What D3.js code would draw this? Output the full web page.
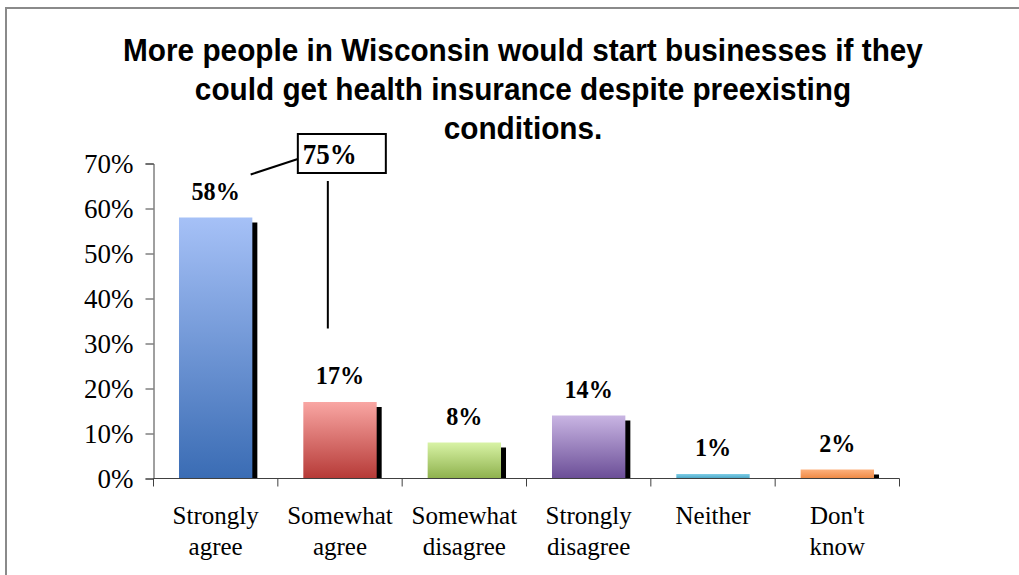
<!DOCTYPE html>
<html>
<head>
<meta charset="utf-8">
<script src="https://cdn.jsdelivr.net/npm/d3@7"></script>
<style>
  body { margin: 0; background: #fff; }
  svg { display: block; }
</style>
</head>
<body>
<svg id="canvas" width="1019" height="575"></svg>
<script>
// survey answers and their share
let categories = [
  ["Strongly", "agree"],
  ["Somewhat", "agree"],
  ["Somewhat", "disagree"],
  ["Strongly", "disagree"],
  ["Neither"],
  ["Don't", "know"]
];
let values = [0.58, 0.17, 0.08, 0.14, 0.01, 0.02];
let valueLabels = ["58%", "17%", "8%", "14%", "1%", "2%"];
let yTicks = [0, 0.1, 0.2, 0.3, 0.4, 0.5, 0.6, 0.7];
let titleLines = [
  "More people in Wisconsin would start businesses if they",
  "could get health insurance despite preexisting",
  "conditions."
];
// combined agree callout
let calloutValue = 0.75;
let calloutLabel = "75%";

// top / bottom colour of each bar gradient
let palette = [
  ["#a6c1f7", "#3a6cb4"],
  ["#f9a6a3", "#b63a37"],
  ["#d8f3a5", "#8eb14d"],
  ["#c9b5e3", "#6b4e97"],
  ["#80cee7", "#48a5c5"],
  ["#fdb17d", "#ef8944"]
];

let svg = d3.select("#canvas");
let serif = "'Liberation Serif', 'Times New Roman', serif";

// outer frame
svg.append("rect")
  .attr("x", 6).attr("y", 8)
  .attr("width", 1040).attr("height", 600)
  .attr("fill", "none")
  .attr("stroke", "#8a8a8a")
  .attr("stroke-width", 2);

// title (slightly narrowed, like the original)
svg.append("g")
  .selectAll("text")
  .data(titleLines)
  .enter()
  .append("text")
  .attr("transform", (d, i) => "translate(523," + (61 + i * 39) + ") scale(0.93,1)")
  .attr("text-anchor", "middle")
  .attr("font-family", "'Liberation Sans', Arial, sans-serif")
  .attr("font-weight", "bold")
  .attr("font-size", 32)
  .text((d) => d);

let x = d3.scaleBand()
  .domain(d3.range(categories.length))
  .range([153.5, 899.5]);

let y = d3.scaleLinear()
  .domain([0, 0.7])
  .range([478.5, 163.5]);

let barW = x.bandwidth() * 0.59;
let shadow = 5;

// gradients
let defs = svg.append("defs");
palette.forEach((c, i) => {
  let g = defs.append("linearGradient")
    .attr("id", "grad" + i)
    .attr("x1", 0).attr("y1", 0)
    .attr("x2", 0).attr("y2", 1);
  g.append("stop").attr("offset", "0%").attr("stop-color", c[0]);
  g.append("stop").attr("offset", "100%").attr("stop-color", c[1]);
});

let barX = (i) => x(i) + (x.bandwidth() - barW) / 2;

// shadows
svg.append("g")
  .selectAll("rect")
  .data(values)
  .enter()
  .append("rect")
  .attr("x", (d, i) => barX(i) + shadow)
  .attr("y", (d) => Math.min(y(d) + shadow, y(0)))
  .attr("width", barW)
  .attr("height", (d) => Math.max(0, y(0) - y(d) - shadow))
  .attr("fill", "#000");

// bars
svg.append("g")
  .selectAll("rect")
  .data(values)
  .enter()
  .append("rect")
  .attr("x", (d, i) => barX(i))
  .attr("y", (d) => y(d))
  .attr("width", barW)
  .attr("height", (d) => y(0) - y(d))
  .attr("fill", (d, i) => "url(#grad" + i + ")");

// value labels
svg.append("g")
  .selectAll("text")
  .data(values)
  .enter()
  .append("text")
  .attr("transform", (d, i) => "translate(" + (x(i) + x.bandwidth() / 2) + "," + (y(d) - 18) + ") scale(0.93,1)")
  .attr("text-anchor", "middle")
  .attr("font-family", serif)
  .attr("font-weight", "bold")
  .attr("font-size", 26)
  .text((d, i) => valueLabels[i]);

// y axis
let yAxis = svg.append("g")
  .attr("transform", "translate(153.5,0)")
  .call(d3.axisLeft(y).tickValues(yTicks).tickFormat(d3.format(".0%")).tickSize(8).tickPadding(12));
yAxis.select(".domain").attr("stroke", "#404040");
yAxis.selectAll(".tick line").attr("stroke", "#404040");
yAxis.selectAll("text")
  .attr("font-family", serif)
  .attr("font-size", 27)
  .attr("fill", "#000");

// x axis line and boundary ticks
svg.append("line")
  .attr("x1", x.range()[0]).attr("x2", x.range()[1])
  .attr("y1", y(0)).attr("y2", y(0))
  .attr("stroke", "#404040");

let bounds = d3.range(categories.length + 1).map((i) => x.range()[0] + i * x.step());
svg.append("g")
  .selectAll("line")
  .data(bounds)
  .enter()
  .append("line")
  .attr("x1", (d) => d).attr("x2", (d) => d)
  .attr("y1", y(0)).attr("y2", y(0) + 8)
  .attr("stroke", "#404040");

// category labels
let cat = svg.append("g")
  .selectAll("text")
  .data(categories)
  .enter()
  .append("text")
  .attr("x", (d, i) => x(i) + x.bandwidth() / 2)
  .attr("y", 524)
  .attr("text-anchor", "middle")
  .attr("font-family", serif)
  .attr("font-size", 25);
cat.selectAll("tspan")
  .data((d) => d)
  .enter()
  .append("tspan")
  .attr("x", function () { return d3.select(this.parentNode).attr("x"); })
  .attr("dy", (d, j) => (j === 0 ? 0 : 31))
  .text((d) => d);

// callout box for combined agree
let boxX = x(1) + 20;
let boxTop = y(calloutValue) - 7;
let boxBottom = y(calloutValue) + 32;
svg.append("line")
  .attr("x1", x(0) + x.bandwidth() / 2 + 35)
  .attr("y1", y(values[0]) - 43)
  .attr("x2", boxX)
  .attr("y2", y(calloutValue) + 18)
  .attr("stroke", "#000")
  .attr("stroke-width", 2);
svg.append("rect")
  .attr("x", boxX)
  .attr("y", boxTop)
  .attr("width", 88)
  .attr("height", boxBottom - boxTop)
  .attr("fill", "#fff")
  .attr("stroke", "#000")
  .attr("stroke-width", 2);
svg.append("text")
  .attr("transform", "translate(" + (boxX + 5) + "," + (boxBottom - 9) + ") scale(0.93,1)")
  .attr("font-family", serif)
  .attr("font-weight", "bold")
  .attr("font-size", 29)
  .text(calloutLabel);
svg.append("line")
  .attr("x1", boxX + 30).attr("x2", boxX + 30)
  .attr("y1", boxBottom + 8)
  .attr("y2", y(calloutValue / 2.25))
  .attr("stroke", "#000")
  .attr("stroke-width", 2);
</script>
</body>
</html>
